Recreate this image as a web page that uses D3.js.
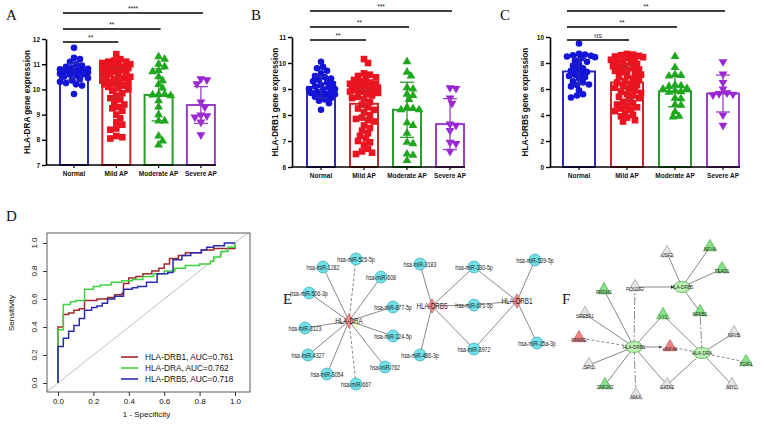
<!DOCTYPE html>
<html>
<head>
<meta charset="utf-8">
<title>HLA expression panels</title>
<style>
  body { margin: 0; background: #fff; }
  text { font-family: Arial, "Liberation Sans", sans-serif; fill: #111; }
  .plabel { font-family: "Liberation Serif", "DejaVu Serif", serif; font-size: 15px; }
  .net text { font-family: Arial, "Liberation Sans", sans-serif; fill: #222; }
</style>
<script src="https://d3js.org/d3.v7.min.js"></script>
</head>
<body>
<svg id="fig" width="762" height="424"></svg>
<script>
// ---------- data ----------
const cats = ["Normal", "Mild AP", "Moderate AP", "Severe AP"];
const dotColors = ["#1414d8", "#ea1520", "#1ea81e", "#9a26d4"];
const barColors = ["#2a2ab4", "#c42a2a", "#2a9e2a", "#9a3ec8"];

// HLA-DRA (panel A)
const draNormal = [11.65, 11.25, 11.2, 11.1, 11.0, 10.95, 10.9, 10.85, 10.82, 10.8, 10.78, 10.75, 10.72, 10.7, 10.7,
  10.68, 10.65, 10.62, 10.6, 10.58, 10.55, 10.5, 10.45, 10.4, 10.35, 10.3, 10.25, 10.2, 10.15, 9.82];
const draMild = [11.4, 11.2, 11.15, 11.1, 11.1, 11.05, 11.0, 11.0, 10.95, 10.9, 10.9, 10.85, 10.85, 10.8, 10.8, 10.75,
  10.7, 10.7, 10.65, 10.6, 10.6, 10.55, 10.5, 10.5, 10.45, 10.4, 10.35, 10.3, 10.3, 10.25, 10.25, 10.2, 10.2, 10.15,
  10.1, 10.05, 10.0, 9.95, 9.85, 9.75, 9.65, 9.6, 9.5, 9.4, 9.3, 9.25, 9.15, 9.0, 8.85, 8.7, 8.6, 8.45, 8.4, 8.15, 8.1, 8.05];
const draModerate = [11.3, 11.2, 11.0, 10.9, 10.75, 10.7, 10.5, 10.35, 10.2, 10.05, 9.8, 9.8, 9.78, 9.75, 9.55, 9.3,
  9.0, 8.75, 8.75, 8.15, 7.95, 7.8];
const draSevere = [10.42, 10.38, 10.22, 9.5, 9.3, 8.98, 8.95, 8.9, 8.7, 8.2];
const draMeans = [10.7, 10.27, 9.78, 9.38];
const draSD = [0.33, 0.6, 1.03, 0.73];
const draSig = ["**", "**", "****"];

// HLA-DRB1 (panel B)
const drb1Normal = [10.05, 9.85, 9.8, 9.7, 9.6, 9.5, 9.45, 9.4, 9.35, 9.3, 9.25, 9.2, 9.15, 9.1, 9.05, 9.0, 9.0, 8.95,
  8.9, 8.9, 8.85, 8.8, 8.8, 8.75, 8.7, 8.65, 8.6, 8.55, 8.45, 8.2];
const drb1Mild = [10.15, 10.0, 9.6, 9.55, 9.5, 9.45, 9.4, 9.35, 9.3, 9.25, 9.2, 9.2, 9.15, 9.15, 9.1, 9.1, 9.05, 9.05,
  9.0, 9.0, 8.95, 8.95, 8.9, 8.9, 8.85, 8.8, 8.75, 8.7, 8.65, 8.6, 8.5, 8.4, 8.3, 8.25, 8.2, 8.1, 8.0, 7.9, 7.85, 7.8,
  7.75, 7.6, 7.5, 7.4, 7.3, 7.2, 7.1, 7.0, 6.95, 6.85, 6.7, 6.6, 6.55, 6.5];
const drb1Moderate = [10.05, 9.65, 9.5, 9.05, 9.0, 8.8, 8.75, 8.6, 8.3, 8.25, 8.2, 8.2, 7.7, 7.6, 7.3, 6.95, 6.9,
  6.5, 6.45, 6.25];
const drb1Severe = [9.05, 9.02, 8.65, 8.45, 7.65, 7.6, 7.4, 6.95, 6.9, 6.6];
const drb1Means = [9.07, 8.43, 8.2, 7.65];
const drb1SD = [0.42, 0.55, 1.06, 0.98];
const drb1Sig = ["**", "**", "***"];

// HLA-DRB5 (panel C)
const drb5Normal = [9.5, 8.7, 8.65, 8.6, 8.55, 8.5, 8.45, 8.35, 8.2, 8.1, 7.9, 7.8, 7.6, 7.5, 7.4, 7.3, 7.2, 7.1,
  7.0, 6.9, 6.8, 6.6, 6.5, 6.35, 6.3, 6.2, 5.9, 5.6, 5.5, 5.35];
const drb5Mild = [8.7, 8.65, 8.6, 8.55, 8.5, 8.45, 8.4, 8.3, 8.25, 8.2, 8.1, 8.0, 7.9, 7.8, 7.75, 7.7, 7.6, 7.5, 7.45,
  7.4, 7.3, 7.2, 7.1, 7.0, 6.9, 6.8, 6.7, 6.6, 6.5, 6.4, 6.3, 6.2, 6.1, 6.0, 5.9, 5.8, 5.7, 5.6, 5.5, 5.4, 5.3, 5.2,
  5.0, 4.9, 4.8, 4.7, 4.6, 4.5, 4.4, 4.3, 4.2, 4.0, 3.9, 3.8, 3.6, 3.5];
const drb5Moderate = [8.5, 7.65, 7.1, 7.05, 7.0, 6.3, 6.25, 6.2, 6.05, 6.0, 5.85, 5.8, 5.75, 5.3, 5.25, 4.8, 4.75,
  4.25, 3.9, 3.85];
const drb5Severe = [8.1, 7.15, 6.5, 6.0, 5.7, 5.65, 5.6, 5.55, 4.0, 3.2];
const drb5Means = [7.35, 6.5, 5.82, 5.65];
const drb5SD = [1.0, 1.3, 1.18, 1.42];
const drb5Sig = ["NS", "**", "**"];

// ROC curves (panel D): [1 - specificity, sensitivity]
const rocDRB1 = [[0, 0], [0, 0.40], [0.03, 0.49], [0.06, 0.50], [0.09, 0.52], [0.12, 0.53], [0.15, 0.59], [0.22, 0.60],
  [0.28, 0.61], [0.32, 0.63], [0.36, 0.64], [0.37, 0.71], [0.40, 0.75], [0.44, 0.76], [0.48, 0.78], [0.53, 0.80],
  [0.57, 0.82], [0.60, 0.85], [0.63, 0.89], [0.68, 0.91], [0.72, 0.93], [0.81, 0.95], [0.88, 0.96], [0.94, 0.96],
  [1.0, 0.98]];
const rocDRA = [[0, 0], [0, 0.38], [0.03, 0.56], [0.07, 0.58], [0.10, 0.59], [0.15, 0.67], [0.20, 0.69], [0.24, 0.70],
  [0.30, 0.72], [0.36, 0.73], [0.42, 0.74], [0.48, 0.76], [0.54, 0.78], [0.60, 0.80], [0.66, 0.82], [0.72, 0.84],
  [0.80, 0.85], [0.86, 0.87], [0.88, 0.90], [0.92, 0.94], [0.96, 0.97], [1.0, 1.0]];
const rocDRB5 = [[0, 0], [0, 0.26], [0.03, 0.32], [0.06, 0.37], [0.09, 0.41], [0.12, 0.46], [0.15, 0.52], [0.19, 0.54],
  [0.22, 0.55], [0.25, 0.57], [0.28, 0.60], [0.32, 0.62], [0.37, 0.67], [0.42, 0.68], [0.45, 0.69], [0.50, 0.72],
  [0.56, 0.78], [0.62, 0.79], [0.65, 0.88], [0.70, 0.91], [0.75, 0.93], [0.81, 0.95], [0.84, 0.97], [0.88, 0.98],
  [0.94, 1.0], [1.0, 1.0]];
const rocNames = ["HLA-DRB1, AUC=0.761", "HLA-DRA, AUC=0.762", "HLA-DRB5, AUC=0.718"];
const rocColors = ["#a0282a", "#3fd23f", "#2b2bb0"];
const rocTicks = [0, 0.2, 0.4, 0.6, 0.8, 1.0];

// mRNA-miRNA network (panel E): [name, layout x, layout y, kind]
const miNodes = [
  ["HLA-DRA", 6.9, 7.1, "gene"], ["HLA-DRB5", 15.2, 5.6, "gene"], ["HLA-DRB1", 23.7, 5.1, "gene"],
  ["hsa-miR-525-5p", 7.6, 0.9, "mir"], ["hsa-miR-1282", 4.3, 1.7, "mir"], ["hsa-miR-608", 10.1, 2.7, "mir"],
  ["hsa-miR-506-3p", 2.9, 4.3, "mir"], ["hsa-miR-877-5p", 11.3, 5.7, "mir"], ["hsa-miR-3123", 2.5, 7.8, "mir"],
  ["hsa-miR-124-5p", 11.3, 8.6, "mir"], ["hsa-miR-4327", 2.8, 10.5, "mir"], ["hsa-miR-762", 10.5, 11.7, "mir"],
  ["hsa-miR-3054", 4.7, 12.4, "mir"], ["hsa-miR-667", 7.6, 13.4, "mir"],
  ["hsa-miR-3183", 14.0, 1.4, "mir"], ["hsa-miR-330-5p", 19.4, 1.7, "mir"], ["hsa-miR-671-5p", 19.4, 5.5, "mir"],
  ["hsa-miR-3972", 19.4, 9.9, "mir"], ["hsa-miR-486-3p", 14.0, 10.5, "mir"],
  ["hsa-miR-539-5p", 25.5, 1.0, "mir"], ["hsa-miR-15a-3p", 25.7, 9.3, "mir"]];
const miEdges = [
  ["HLA-DRA", "hsa-miR-525-5p", 1], ["HLA-DRA", "hsa-miR-1282", 0], ["HLA-DRA", "hsa-miR-608", 0],
  ["HLA-DRA", "hsa-miR-506-3p", 0], ["HLA-DRA", "hsa-miR-877-5p", 0], ["HLA-DRA", "hsa-miR-3123", 0],
  ["HLA-DRA", "hsa-miR-124-5p", 0], ["HLA-DRA", "hsa-miR-4327", 0], ["HLA-DRA", "hsa-miR-762", 0],
  ["HLA-DRA", "hsa-miR-3054", 0], ["HLA-DRA", "hsa-miR-667", 1],
  ["HLA-DRB5", "hsa-miR-3183", 0], ["HLA-DRB5", "hsa-miR-330-5p", 0], ["HLA-DRB5", "hsa-miR-671-5p", 0],
  ["HLA-DRB5", "hsa-miR-3972", 0], ["HLA-DRB5", "hsa-miR-486-3p", 0],
  ["HLA-DRB1", "hsa-miR-330-5p", 0], ["HLA-DRB1", "hsa-miR-671-5p", 0], ["HLA-DRB1", "hsa-miR-3972", 0],
  ["HLA-DRB1", "hsa-miR-539-5p", 0], ["HLA-DRB1", "hsa-miR-15a-3p", 0]];

// TF-mRNA network (panel F): [name, layout x, layout y, kind]
const tfNodes = [
  ["HLA-DRB1", 7.4, 10.7, "gene"], ["HLA-DRB5", 12.2, 4.7, "gene"], ["HLA-DRA", 14.2, 11.3, "gene"],
  ["USF2", 10.7, 1.3, "grey"], ["NFYA", 15.0, 0.7, "green"], ["TEAD1", 16.2, 2.9, "green"],
  ["POU2F2", 7.5, 4.7, "grey"], ["PRDM1", 4.4, 5.0, "green"], ["SREBF1", 2.5, 7.4, "grey"],
  ["YY1", 10.3, 7.5, "green"], ["NFKB1", 14.0, 7.2, "green"], ["PPARG", 1.9, 9.8, "red"],
  ["HNF4A", 11.0, 10.7, "red"], ["NFYB", 17.4, 9.3, "grey"], ["SPI1", 2.9, 12.5, "grey"],
  ["TGIF1", 18.6, 12.2, "green"], ["ZNF263", 4.5, 14.5, "green"], ["GATA2", 10.7, 14.5, "grey"],
  ["MYC", 17.2, 14.5, "grey"], ["MAX", 7.6, 15.5, "grey"]];
const tfEdges = [
  ["HLA-DRB1", "PRDM1", 0], ["HLA-DRB1", "SREBF1", 0], ["HLA-DRB1", "PPARG", 1], ["HLA-DRB1", "SPI1", 0],
  ["HLA-DRB1", "ZNF263", 0], ["HLA-DRB1", "MAX", 2], ["HLA-DRB1", "GATA2", 0], ["HLA-DRB1", "YY1", 0],
  ["HLA-DRB1", "POU2F2", 2], ["HLA-DRB1", "HNF4A", 3],
  ["POU2F2", "HLA-DRB5", 3], ["HLA-DRB5", "USF2", 0], ["HLA-DRB5", "NFYA", 0], ["HLA-DRB5", "TEAD1", 0],
  ["HLA-DRB5", "NFKB1", 0],
  ["HLA-DRA", "NFKB1", 2], ["HLA-DRA", "NFYB", 0], ["HLA-DRA", "TGIF1", 1], ["HLA-DRA", "MYC", 0],
  ["HLA-DRA", "GATA2", 0], ["HLA-DRA", "YY1", 0], ["HLA-DRA", "HNF4A", 1]];

// ---------- drawing ----------
const svg = d3.select("#fig");
svg.append("rect").attr("width", 762).attr("height", 424).attr("fill", "#fff");

const symbols = [d3.symbolCircle, d3.symbolSquare, d3.symbolTriangle, d3.symbolTriangle];
const symSizes = [34, 44, 34, 34];

// simple deterministic beeswarm so points spread sideways like a scatter dot plot
function swarm(vals, y, maxOff, minD) {
  const offs = new Array(vals.length).fill(0);
  const placed = [];
  const order = vals.map((v, i) => i).sort((a, b) => vals[b] - vals[a]);
  const cands = [0];
  for (let s = 2; s <= maxOff; s += 2) cands.push(s, -s);
  order.forEach(i => {
    const py = y(vals[i]);
    let best = 0, bestD = -1;
    for (const o of cands) {
      let md = Infinity;
      placed.forEach(p => { md = Math.min(md, Math.hypot(p[0] - o, p[1] - py)); });
      if (md >= minD) { best = o; bestD = md; break; }
      if (md > bestD) { bestD = md; best = o; }
    }
    offs[i] = best;
    placed.push([best, py]);
  });
  return offs;
}

function barPanel(cfg) {
  const g = svg.append("g");
  const pi = 1 - cfg.bw / cfg.step;
  const start = cfg.firstBar - pi * cfg.step / 2;
  const x = d3.scaleBand().domain(cats).range([start, start + 4 * cfg.step])
    .paddingInner(pi).paddingOuter(pi / 2);
  const y = d3.scaleLinear().domain(cfg.domain).range([cfg.yBot, cfg.yTop]);
  const bw = x.bandwidth();

  g.selectAll("rect.bar").data(cats).join("rect")
    .attr("class", "bar")
    .attr("x", c => x(c)).attr("width", bw)
    .attr("y", (c, i) => y(cfg.means[i]))
    .attr("height", (c, i) => y(cfg.domain[0]) - y(cfg.means[i]))
    .attr("fill", "#fff").attr("stroke", (c, i) => barColors[i]).attr("stroke-width", 2);

  cfg.groups.forEach((vals, gi) => {
    const offs = swarm(vals, y, bw / 2 + 1, 5.5);
    const cx = x(cats[gi]) + bw / 2;
    g.append("g").selectAll("path").data(vals).join("path")
      .attr("d", d3.symbol(symbols[gi], symSizes[gi]))
      .attr("transform", (v, i) => `translate(${cx + offs[i]},${y(v)})` + (gi === 3 ? " rotate(180)" : ""))
      .attr("fill", dotColors[gi]);
  });

  // mean +/- SD error bars
  cats.forEach((c, i) => {
    const cx = x(c) + bw / 2, lo = y(cfg.means[i] - cfg.sds[i]), hi = y(cfg.means[i] + cfg.sds[i]);
    const eb = g.append("g").attr("stroke", barColors[i]).attr("stroke-width", 1.3);
    eb.append("line").attr("x1", cx).attr("x2", cx).attr("y1", lo).attr("y2", hi);
    eb.append("line").attr("x1", cx - 7).attr("x2", cx + 7).attr("y1", lo).attr("y2", lo);
    eb.append("line").attr("x1", cx - 7).attr("x2", cx + 7).attr("y1", hi).attr("y2", hi);
  });

  // axes
  const ya = g.append("g").attr("transform", `translate(${cfg.x0},0)`)
    .call(d3.axisLeft(y).tickValues(cfg.ticks).tickFormat(d3.format("d"))
      .tickSize(4).tickSizeOuter(0).tickPadding(2));
  ya.select(".domain").attr("stroke-width", 1.6);
  ya.selectAll(".tick line").attr("stroke-width", 1.4);
  ya.selectAll("text").attr("font-size", 6.5).attr("font-weight", "bold");

  const xa = g.append("g").attr("transform", `translate(0,${cfg.yBot})`)
    .call(d3.axisBottom(x).tickSize(3).tickPadding(3));
  xa.select(".domain").remove();
  xa.selectAll(".tick line").attr("stroke-width", 1.2);
  xa.selectAll("text").attr("font-size", 6.5).attr("font-weight", "bold");
  g.append("line").attr("x1", cfg.x0).attr("x2", x(cats[3]) + bw + 1)
    .attr("y1", cfg.yBot).attr("y2", cfg.yBot).attr("stroke", "#000").attr("stroke-width", 1.6);

  g.append("text")
    .attr("transform", `translate(${cfg.labelX},${(cfg.yTop + cfg.yBot) / 2}) rotate(-90)`)
    .attr("text-anchor", "middle").attr("dominant-baseline", "central")
    .attr("font-size", 8.2).attr("font-weight", "bold").text(cfg.ylabel);

  // significance brackets
  const x1 = x(cats[0]) + bw / 2 + cfg.sigStart;
  cfg.sig.forEach((s, k) => {
    const x2 = x(cats[k + 1]) + bw / 2 + 2;
    g.append("line").attr("x1", x1).attr("x2", x2).attr("y1", cfg.sigY[k]).attr("y2", cfg.sigY[k])
      .attr("stroke", "#000").attr("stroke-width", 1.4);
    g.append("text").attr("x", (x1 + x2) / 2).attr("y", cfg.sigY[k] - 2)
      .attr("text-anchor", "middle").attr("font-size", s === "NS" ? 5.5 : 6.5).text(s);
  });

  svg.append("text").attr("class", "plabel").attr("x", cfg.plx).attr("y", 20).text(cfg.letter);
}

barPanel({ letter: "A", plx: 6, ylabel: "HLA-DRA gene expression", domain: [7, 12], ticks: [7, 8, 9, 10, 11, 12],
  groups: [draNormal, draMild, draModerate, draSevere], means: draMeans, sds: draSD, sig: draSig,
  x0: 46, firstBar: 60, step: 42.3, bw: 28, yTop: 39, yBot: 165, labelX: 27, sigY: [42, 29, 13], sigStart: -11 });
barPanel({ letter: "B", plx: 251, ylabel: "HLA-DRB1 gene expression", domain: [6, 11], ticks: [6, 7, 8, 9, 10, 11],
  groups: [drb1Normal, drb1Mild, drb1Moderate, drb1Severe], means: drb1Means, sds: drb1SD, sig: drb1Sig,
  x0: 292, firstBar: 307, step: 43, bw: 28, yTop: 37, yBot: 167, labelX: 275, sigY: [40, 27, 11], sigStart: -11 });
barPanel({ letter: "C", plx: 500, ylabel: "HLA-DRB5 gene expression", domain: [0, 10], ticks: [0, 2, 4, 6, 8, 10],
  groups: [drb5Normal, drb5Mild, drb5Moderate, drb5Severe], means: drb5Means, sds: drb5SD, sig: drb5Sig,
  x0: 550, firstBar: 563, step: 48, bw: 32, yTop: 37, yBot: 167, labelX: 525, sigY: [40, 27, 11], sigStart: -12 });

// ---------- panel D: ROC ----------
(function () {
  const g = svg.append("g");
  const xr = d3.scaleLinear().domain([0, 1]).range([58, 235]);
  const yr = d3.scaleLinear().domain([0, 1]).range([383, 243]);
  const box = { x: 47, y: 233, w: 203, h: 159 };
  g.append("clipPath").attr("id", "rocclip").append("rect")
    .attr("x", box.x).attr("y", box.y).attr("width", box.w).attr("height", box.h);
  g.append("line").attr("clip-path", "url(#rocclip)")
    .attr("x1", xr(-0.1)).attr("y1", yr(-0.1)).attr("x2", xr(1.2)).attr("y2", yr(1.2))
    .attr("stroke", "#b8b8b8").attr("stroke-width", 0.9);
  const line = d3.line().x(d => xr(d[0])).y(d => yr(d[1])).curve(d3.curveStepAfter);
  [rocDRB1, rocDRA, rocDRB5].forEach((r, i) => {
    g.append("path").attr("d", line(r)).attr("fill", "none")
      .attr("stroke", rocColors[i]).attr("stroke-width", 1.5);
  });
  g.append("rect").attr("x", box.x).attr("y", box.y).attr("width", box.w).attr("height", box.h)
    .attr("fill", "none").attr("stroke", "#333").attr("stroke-width", 0.8);

  const xa = g.append("g").attr("transform", `translate(0,${box.y + box.h})`)
    .call(d3.axisBottom(xr).tickValues(rocTicks).tickFormat(d3.format(".1f")).tickSize(4).tickPadding(2));
  xa.select(".domain").remove();
  xa.selectAll("text").attr("font-size", 8).attr("fill", "#333");
  xa.selectAll(".tick line").attr("stroke", "#333");

  const ya = g.append("g").attr("transform", `translate(${box.x},0)`)
    .call(d3.axisLeft(yr).tickValues(rocTicks).tickFormat("").tickSize(4));
  ya.select(".domain").remove();
  ya.selectAll(".tick line").attr("stroke", "#333");
  g.selectAll("text.ytl").data(rocTicks).join("text").attr("class", "ytl")
    .attr("transform", d => `translate(${box.x - 10},${yr(d)}) rotate(-90)`)
    .attr("text-anchor", "middle").attr("font-size", 8).attr("fill", "#333")
    .text(d3.format(".1f"));

  g.append("text").attr("x", (xr(0) + xr(1)) / 2).attr("y", 417).attr("text-anchor", "middle")
    .attr("font-size", 8).attr("fill", "#333").text("1 - Specificity");
  g.append("text").attr("transform", `translate(14,${(yr(0) + yr(1)) / 2}) rotate(-90)`)
    .attr("text-anchor", "middle").attr("font-size", 8).attr("fill", "#333").text("Sensitivity");

  rocNames.forEach((n, i) => {
    const ly = 357 + i * 11;
    g.append("line").attr("x1", 121).attr("x2", 138).attr("y1", ly).attr("y2", ly)
      .attr("stroke", rocColors[i]).attr("stroke-width", 1.6);
    g.append("text").attr("x", 145).attr("y", ly + 3).attr("font-size", 8.3).attr("fill", "#333").text(n);
  });
  svg.append("text").attr("class", "plabel").attr("x", 6).attr("y", 221).text("D");
})();

// ---------- networks ----------
const defs = svg.append("defs");
defs.append("marker").attr("id", "arr").attr("viewBox", "0 0 10 10").attr("refX", 10).attr("refY", 5)
  .attr("markerWidth", 5).attr("markerHeight", 5).attr("orient", "auto")
  .append("path").attr("d", "M0,0L10,5L0,10z").attr("fill", "#444");

function network(nodes, edges, sx, sy, drawNode, fontSize, squeeze) {
  const g = svg.append("g").attr("class", "net");
  const pos = new Map(nodes.map(n => [n[0], [sx(n[1]), sy(n[2])]]));
  const dash = ["", "3,2", "8,2,2,2", ""];
  edges.forEach(e => {
    const a = pos.get(e[0]), b = pos.get(e[1]);
    const ln = g.append("line").attr("x1", a[0]).attr("y1", a[1]).attr("stroke", "#555").attr("stroke-width", 0.7)
      .attr("stroke-dasharray", dash[e[2]]);
    if (e[2] === 3) {
      const d = Math.hypot(b[0] - a[0], b[1] - a[1]), k = (d - 8) / d;
      ln.attr("x2", a[0] + (b[0] - a[0]) * k).attr("y2", a[1] + (b[1] - a[1]) * k).attr("marker-end", "url(#arr)");
    } else {
      ln.attr("x2", b[0]).attr("y2", b[1]);
    }
  });
  nodes.forEach(n => {
    const p = pos.get(n[0]);
    drawNode(g, n, p);
    const dy = (n[3] === "gene" || n[3] === "mir") ? 0 : 2;
    g.append("text").attr("transform", `translate(${p[0]},${p[1] + dy}) scale(${squeeze},1)`)
      .attr("text-anchor", "middle").attr("dominant-baseline", "central")
      .attr("font-size", n[3] === "gene" && fontSize > 6 ? fontSize + 1.4 : fontSize).text(n[0]);
  });
}

// panel E
network(miNodes, miEdges,
  d3.scaleLinear().domain([0, 27]).range([280, 550]),
  d3.scaleLinear().domain([0, 15]).range([250, 400]),
  (g, n, p) => {
    if (n[3] === "gene") {
      g.append("path").attr("d", d3.symbol(d3.symbolDiamond, 60)).attr("transform", `translate(${p[0]},${p[1]})`)
        .attr("fill", "#f28b8b").attr("stroke", "#b85050").attr("stroke-width", 0.6);
    } else {
      g.append("circle").attr("cx", p[0]).attr("cy", p[1]).attr("r", 6)
        .attr("fill", "#6fe2ea").attr("stroke", "#2a9aaa").attr("stroke-width", 0.6);
    }
  }, 6.9, 0.76);
svg.append("text").attr("class", "plabel").attr("x", 283).attr("y", 304).text("E");

// panel F
const tfFill = { green: "#86e286", grey: "#e6e6e6", red: "#f08484" };
const tfStroke = { green: "#3c9c3c", grey: "#8a8a8a", red: "#b85050" };
network(tfNodes, tfEdges,
  d3.scaleLinear().domain([0, 20]).range([560, 760]),
  d3.scaleLinear().domain([0, 18]).range([240, 420]),
  (g, n, p) => {
    if (n[3] === "gene") {
      g.append("ellipse").attr("cx", p[0]).attr("cy", p[1]).attr("rx", 8.5).attr("ry", 5.5)
        .attr("fill", "#bdf2b5").attr("stroke", "#46a846").attr("stroke-width", 0.7);
    } else {
      g.append("path").attr("d", d3.symbol(d3.symbolTriangle, 75)).attr("transform", `translate(${p[0]},${p[1]})`)
        .attr("fill", tfFill[n[3]]).attr("stroke", tfStroke[n[3]]).attr("stroke-width", 0.6);
    }
  }, 5.4, 0.85);
svg.append("text").attr("class", "plabel").attr("x", 562).attr("y", 304).text("F");
</script>
</body>
</html>
